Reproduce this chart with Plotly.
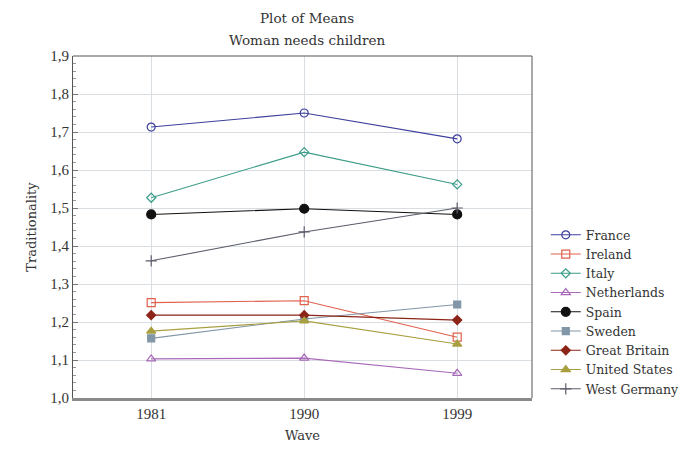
import plotly.graph_objects as go

# Survey waves and mean traditionality scores per country
waves = [1981, 1990, 1999]
france = [1.713, 1.750, 1.682]
ireland = [1.251, 1.256, 1.160]
italy = [1.527, 1.647, 1.562]
netherlands = [1.103, 1.105, 1.065]
spain = [1.483, 1.498, 1.483]
sweden = [1.157, 1.208, 1.246]
great_britain = [1.218, 1.218, 1.205]
united_states = [1.176, 1.203, 1.142]
west_germany = [1.361, 1.437, 1.500]

y_ticks = [1.0, 1.1, 1.2, 1.3, 1.4, 1.5, 1.6, 1.7, 1.8, 1.9]
y_tick_labels = ["1,0", "1,1", "1,2", "1,3", "1,4", "1,5", "1,6", "1,7", "1,8", "1,9"]

series = [
    ("France", france, "#3c3f9c", "circle-open", 8),
    ("Ireland", ireland, "#e0604c", "square-open", 8),
    ("Italy", italy, "#3a9c88", "diamond-open", 7),
    ("Netherlands", netherlands, "#a86ab8", "triangle-up-open", 8),
    ("Spain", spain, "#111111", "circle", 9),
    ("Sweden", sweden, "#8196a6", "square", 7),
    ("Great Britain", great_britain, "#8c2418", "diamond", 7),
    ("United States", united_states, "#a8a040", "triangle-up", 8),
    ("West Germany", west_germany, "#5c5c6c", "cross-thin-open", 8),
]

TICK_FONT = "Liberation Serif"
TEXT_FONT = "DejaVu Serif"
TXT = "#333333"

fig = go.Figure()
for name, vals, color, symbol, size in series:
    fig.add_trace(go.Scatter(
        x=waves, y=vals, name=name, mode="lines+markers",
        line=dict(color=color, width=1.1),
        marker=dict(symbol=symbol, size=size, color=color,
                    line=dict(color=color, width=1.2)),
    ))

fig.update_layout(
    width=700, height=453,
    margin=dict(l=73, r=168, t=56, b=52),
    paper_bgcolor="white", plot_bgcolor="white",
    font=dict(family=TEXT_FONT, size=13, color=TXT),
    showlegend=True,
    legend=dict(
        x=1.03, xanchor="left", y=0.52, yanchor="top",
        bgcolor="rgba(0,0,0,0)", borderwidth=0,
        font=dict(family=TEXT_FONT, size=12.5, color=TXT),
        tracegroupgap=0, itemwidth=30,
    ),
    xaxis=dict(
        range=[1976.4, 2003.4],
        tickvals=waves, ticktext=[str(w) for w in waves],
        showgrid=True, gridcolor="#d9dee2", gridwidth=1,
        zeroline=False,
        showline=True, linecolor="#8a8a8a", linewidth=3,
        ticks="", tickfont=dict(family=TICK_FONT, size=15, color=TXT),
        title=dict(text="Wave", font=dict(family=TEXT_FONT, size=13, color=TXT),
                   standoff=10),
    ),
    yaxis=dict(
        range=[1.0, 1.9],
        tickvals=y_ticks, ticktext=y_tick_labels,
        showgrid=True, gridcolor="#d9dee2", gridwidth=1,
        zeroline=False,
        showline=True, linecolor="#555555", linewidth=1,
        ticks="inside", ticklen=5, tickcolor="#777777",
        minor=dict(ticks="inside", ticklen=3, tickcolor="#999999", dtick=0.02,
                   showgrid=False),
        tickfont=dict(family=TICK_FONT, size=15, color=TXT),
        title=dict(text="Traditionality", font=dict(family=TEXT_FONT, size=13, color=TXT),
                   standoff=10),
    ),
)

# Two-line chart heading above the plotting area
fig.add_annotation(text="Plot of Means", xref="paper", yref="paper",
                   x=0.51, y=1.110, xanchor="center", yanchor="middle",
                   showarrow=False, font=dict(family=TEXT_FONT, size=13.5, color=TXT))
fig.add_annotation(text="Woman needs children", xref="paper", yref="paper",
                   x=0.51, y=1.046, xanchor="center", yanchor="middle",
                   showarrow=False, font=dict(family=TEXT_FONT, size=13.5, color=TXT))

# Thin frame around the top and right of the plotting area
fig.add_shape(type="line", xref="paper", yref="paper", x0=0, x1=1, y0=1, y1=1,
              line=dict(color="#555555", width=1))
fig.add_shape(type="line", xref="paper", yref="paper", x0=1, x1=1, y0=0, y1=1,
              line=dict(color="#555555", width=1))

fig.write_html("out.html")
